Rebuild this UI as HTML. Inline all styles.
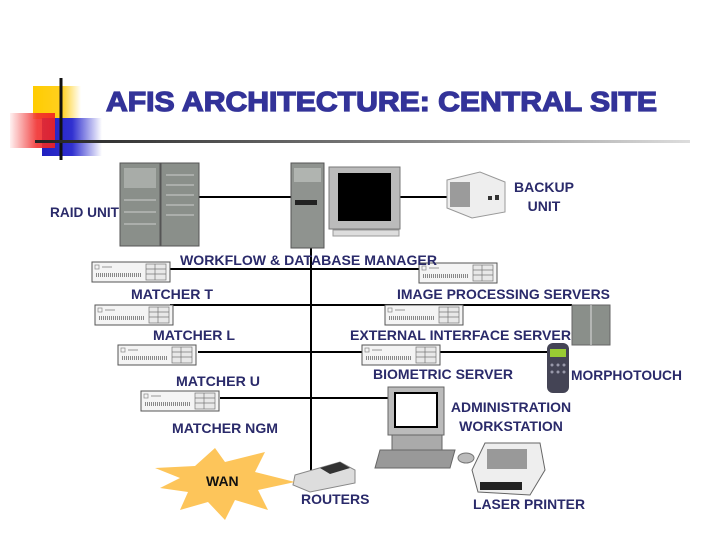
<!DOCTYPE html>
<html><head><meta charset="utf-8"><style>
html,body{margin:0;padding:0;background:#fff;width:720px;height:540px;overflow:hidden}
svg{display:block}
.l{font-family:"Liberation Sans",Arial,sans-serif;font-weight:bold;font-size:14px;fill:#2a2a6a}
</style></head><body>
<svg width="720" height="540" viewBox="0 0 720 540">
<defs>
<linearGradient id="hl" x1="0" x2="1"><stop offset="0" stop-color="#222"/><stop offset="0.6" stop-color="#888"/><stop offset="1" stop-color="#ddd"/></linearGradient>
<linearGradient id="rd" x1="0" x2="1"><stop offset="0" stop-color="#fff0f0"/><stop offset="0.6" stop-color="#f03030"/><stop offset="1" stop-color="#f02020"/></linearGradient>
<linearGradient id="bl" x1="0" x2="1"><stop offset="0" stop-color="#2020c0"/><stop offset="0.5" stop-color="#3030d0"/><stop offset="1" stop-color="#fff"/></linearGradient>
<linearGradient id="yl" x1="0" x2="1"><stop offset="0" stop-color="#ffcc00"/><stop offset="0.6" stop-color="#ffd020"/><stop offset="1" stop-color="#fff"/></linearGradient>
<g id="srv">
<rect x="0" y="0" width="78" height="20" fill="#f4f4f4" stroke="#555" stroke-width="1"/>
<rect x="3" y="3" width="4" height="4" fill="none" stroke="#888" stroke-width="0.7"/>
<line x1="10" y1="5" x2="20" y2="5" stroke="#999"/>
<line x1="4" y1="13" x2="50" y2="13" stroke="#888" stroke-width="4" stroke-dasharray="1,1"/>
<rect x="54" y="2" width="20" height="16" fill="#e8e8e8" stroke="#777" stroke-width="0.7"/>
<line x1="54" y1="7" x2="74" y2="7" stroke="#777" stroke-width="0.7"/><line x1="54" y1="12" x2="74" y2="12" stroke="#777" stroke-width="0.7"/>
<line x1="63" y1="2" x2="63" y2="18" stroke="#777" stroke-width="0.7"/>
</g>
</defs>
<rect x="33" y="86" width="48" height="33" fill="url(#yl)"/>
<rect x="42" y="118" width="60" height="38" fill="url(#bl)"/>
<rect x="10" y="113" width="45" height="35" fill="url(#rd)" opacity="0.9"/>
<line x1="61" y1="78" x2="61" y2="160" stroke="#111" stroke-width="3"/>
<rect x="35" y="140" width="655" height="3" fill="url(#hl)"/>
<text x="106" y="111" font-family="'Liberation Sans',Arial,sans-serif" font-weight="bold" font-size="27.5" fill="#333399" stroke="#333399" stroke-width="1.3" textLength="551" lengthAdjust="spacingAndGlyphs">AFIS ARCHITECTURE: CENTRAL SITE</text>
<g stroke="#000" stroke-width="2">
<line x1="198" y1="197" x2="292" y2="197"/>
<line x1="400" y1="197" x2="450" y2="197"/>
<line x1="311" y1="248" x2="311" y2="478"/>
<line x1="170" y1="269" x2="420" y2="269"/>
<line x1="170" y1="305" x2="572" y2="305"/>
<line x1="198" y1="352" x2="362" y2="352"/>
<line x1="440" y1="352" x2="547" y2="352"/>
<line x1="220" y1="398" x2="390" y2="398"/>
</g>
<rect x="120" y="163" width="40" height="83" fill="#8a8f8a" stroke="#555"/>
<rect x="161" y="163" width="38" height="83" fill="#8a8f8a" stroke="#555"/>
<rect x="124" y="168" width="32" height="20" fill="#a8aca8"/>
<g stroke="#ccc" stroke-width="1"><line x1="124" y1="200" x2="156" y2="200"/><line x1="124" y1="212" x2="156" y2="212"/><line x1="124" y1="224" x2="156" y2="224"/><line x1="166" y1="175" x2="194" y2="175"/><line x1="166" y1="185" x2="194" y2="185"/><line x1="166" y1="195" x2="194" y2="195"/><line x1="166" y1="205" x2="194" y2="205"/><line x1="166" y1="215" x2="194" y2="215"/></g>
<rect x="291" y="163" width="33" height="85" fill="#8f938f" stroke="#555"/>
<rect x="294" y="168" width="27" height="14" fill="#b0b4b0"/>
<rect x="295" y="200" width="22" height="5" fill="#222"/>
<rect x="329" y="167" width="71" height="62" fill="#bbb" stroke="#777"/>
<rect x="338" y="173" width="53" height="48" fill="#000"/>
<rect x="333" y="230" width="66" height="6" fill="#ddd" stroke="#999"/>
<polygon points="447,180 480,172 505,182 505,212 472,218 447,208" fill="#eee" stroke="#999"/>
<rect x="450" y="182" width="20" height="25" fill="#777" opacity="0.7"/>
<rect x="488" y="196" width="4" height="4" fill="#333"/><rect x="495" y="195" width="4" height="5" fill="#333"/>
<use href="#srv" x="92" y="262"/>
<use href="#srv" x="419" y="263"/>
<use href="#srv" x="95" y="305"/>
<use href="#srv" x="385" y="305"/>
<use href="#srv" x="118" y="345"/>
<use href="#srv" x="362" y="345"/>
<use href="#srv" x="141" y="391"/>
<rect x="572" y="305" width="38" height="40" fill="#8a8f8a" stroke="#666"/>
<line x1="591" y1="305" x2="591" y2="345" stroke="#ddd"/>
<rect x="547" y="343" width="22" height="50" rx="6" fill="#445" />
<rect x="550" y="349" width="16" height="8" fill="#9c3"/>
<g fill="#99a"><circle cx="552" cy="365" r="1.5"/><circle cx="558" cy="365" r="1.5"/><circle cx="564" cy="365" r="1.5"/><circle cx="552" cy="372" r="1.5"/><circle cx="558" cy="372" r="1.5"/><circle cx="564" cy="372" r="1.5"/></g>
<rect x="388" y="387" width="56" height="48" fill="#bbb" stroke="#666"/>
<rect x="395" y="393" width="42" height="34" fill="#fff" stroke="#000" stroke-width="2"/>
<rect x="392" y="435" width="50" height="18" fill="#aaa" stroke="#666"/>
<polygon points="380,450 455,450 450,468 375,468" fill="#999" stroke="#666"/>
<ellipse cx="466" cy="458" rx="8" ry="5" fill="#bbb" stroke="#777"/>
<polygon points="485,443 540,443 545,470 530,495 478,492 472,470" fill="#eee" stroke="#666"/>
<rect x="487" y="449" width="40" height="20" fill="#999"/>
<rect x="480" y="482" width="42" height="8" fill="#222"/>
<polygon points="295,475 340,462 355,470 355,483 310,492 293,485" fill="#ddd" stroke="#888"/>
<polygon points="320,468 340,462 350,468 330,474" fill="#333"/>
<polygon points="155,468 195,466 215,448 225,462 265,452 255,472 295,482 258,490 268,510 235,500 225,520 208,502 180,510 188,492 160,488 180,478" fill="#fdc55a"/>
<text class="l" x="50" y="217" textLength="69" lengthAdjust="spacingAndGlyphs">RAID UNIT</text>
<text class="l" x="544" y="192" text-anchor="middle">BACKUP</text>
<text class="l" x="544" y="211" text-anchor="middle">UNIT</text>
<text class="l" x="180" y="265" textLength="257" lengthAdjust="spacingAndGlyphs">WORKFLOW &amp; DATABASE MANAGER</text>
<text class="l" x="131" y="299" textLength="82" lengthAdjust="spacingAndGlyphs">MATCHER T</text>
<text class="l" x="397" y="299" textLength="213" lengthAdjust="spacingAndGlyphs">IMAGE PROCESSING SERVERS</text>
<text class="l" x="153" y="340" textLength="82" lengthAdjust="spacingAndGlyphs">MATCHER L</text>
<text class="l" x="350" y="340" textLength="221" lengthAdjust="spacingAndGlyphs">EXTERNAL INTERFACE SERVER</text>
<text class="l" x="373" y="379" textLength="140" lengthAdjust="spacingAndGlyphs">BIOMETRIC SERVER</text>
<text class="l" x="571" y="380" textLength="111" lengthAdjust="spacingAndGlyphs">MORPHOTOUCH</text>
<text class="l" x="176" y="386" textLength="84" lengthAdjust="spacingAndGlyphs">MATCHER U</text>
<text class="l" x="511" y="412" text-anchor="middle">ADMINISTRATION</text>
<text class="l" x="511" y="431" text-anchor="middle">WORKSTATION</text>
<text class="l" x="172" y="433" textLength="106" lengthAdjust="spacingAndGlyphs">MATCHER NGM</text>
<text class="l" x="206" y="486" style="fill:#111">WAN</text>
<text class="l" x="301" y="504">ROUTERS</text>
<text class="l" x="473" y="509" textLength="112" lengthAdjust="spacingAndGlyphs">LASER PRINTER</text>
</svg>
</body></html>
